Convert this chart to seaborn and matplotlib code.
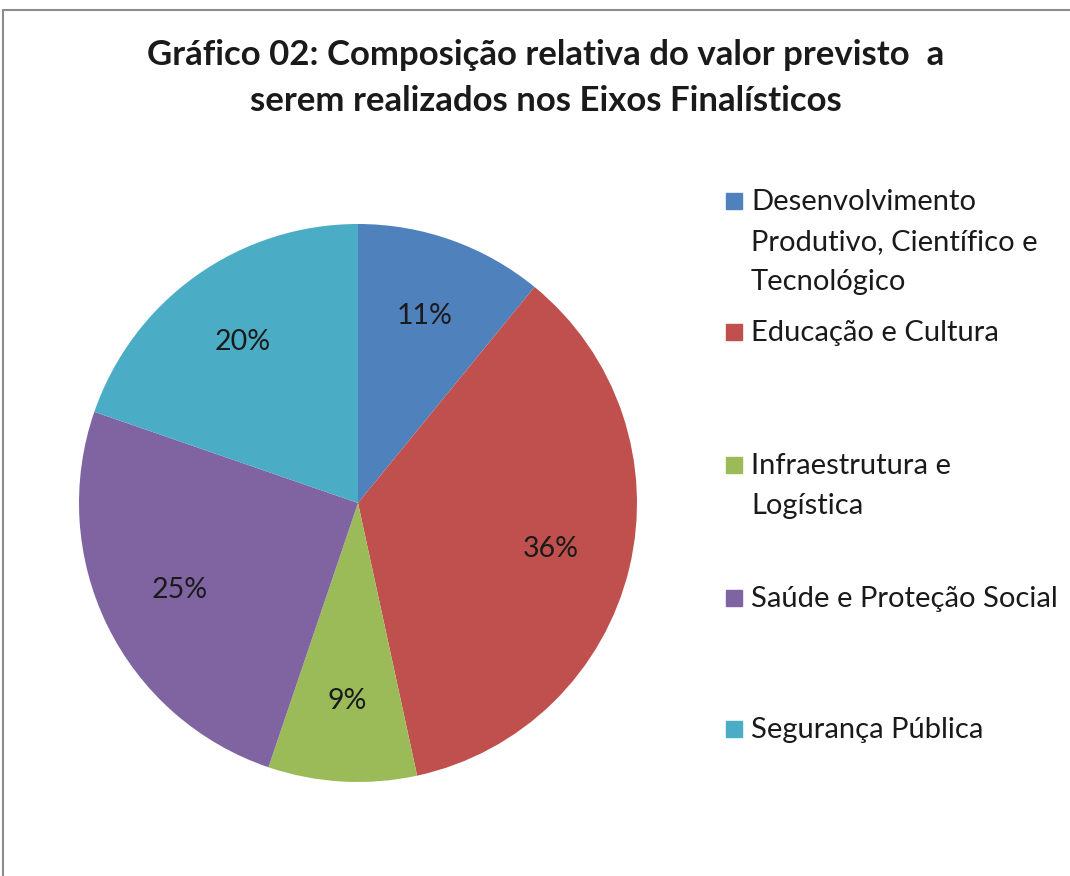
import matplotlib
matplotlib.use("Agg")
import matplotlib.pyplot as plt
import seaborn as sns
from matplotlib.patches import Rectangle
from matplotlib.lines import Line2D

# dados
categorias = ["Desenvolvimento\nProdutivo, Científico e\nTecnológico",
              "Educação e Cultura",
              "Infraestrutura e\nLogística",
              "Saúde e Proteção Social",
              "Segurança Pública"]
participacao = [10.9, 35.7, 8.6, 25.1, 19.7]
cores = ["#4F81BD", "#C0504D", "#9BBB59", "#8064A2", "#4BACC6"]
titulo = "Gráfico 02: Composição relativa do valor previsto  a\nserem realizados nos Eixos Finalísticos"

sns.set_style("white")
plt.rcParams["font.family"] = ["Lato", "DejaVu Sans"]

W, H = 1070, 876
fig = plt.figure(figsize=(W / 100, H / 100), dpi=100)

# pizza: centro (358, 503) px, raio 279 px
cx, cy, r = 358, 503, 279
ax = fig.add_axes([(cx - r) / W, (H - cy - r) / H, 2 * r / W, 2 * r / H])
ax.pie(participacao, colors=cores, startangle=90, counterclock=False,
       autopct=lambda p: f"{p:.0f}%", pctdistance=0.71,
       textprops={"fontsize": 20.5, "color": "#1a1a1a"},
       wedgeprops={"linewidth": 0})
ax.set_xlim(-1, 1)
ax.set_ylim(-1, 1)
ax.axis("off")

fig.text(546 / W, 1 - 78 / H, titulo, ha="center", va="center",
         fontsize=25, fontweight="bold", color="#1a1a1a", linespacing=1.55)

# legenda manual, alinhada pela primeira linha de cada item
marcas_y = [201, 332, 465, 598, 729]
for cat, cor, my in zip(categorias, cores, marcas_y):
    fig.patches.append(Rectangle((726 / W, 1 - (my + 8) / H), 16 / W, 16 / H,
                                 transform=fig.transFigure, color=cor))
    for i, linha in enumerate(cat.split("\n")):
        fig.text(751 / W, 1 - (my + 9 + 40 * i) / H, linha, ha="left", va="baseline",
                 fontsize=21, color="#1a1a1a")

# moldura (só topo e esquerda aparecem)
fig.lines.append(Line2D([3 / W, 1], [1 - 10 / H, 1 - 10 / H], transform=fig.transFigure,
                        color="#8c8c8c", linewidth=1.5))
fig.lines.append(Line2D([3 / W, 3 / W], [0, 1 - 10 / H], transform=fig.transFigure,
                        color="#8c8c8c", linewidth=1.5))

fig.savefig("out.png", dpi=100)
